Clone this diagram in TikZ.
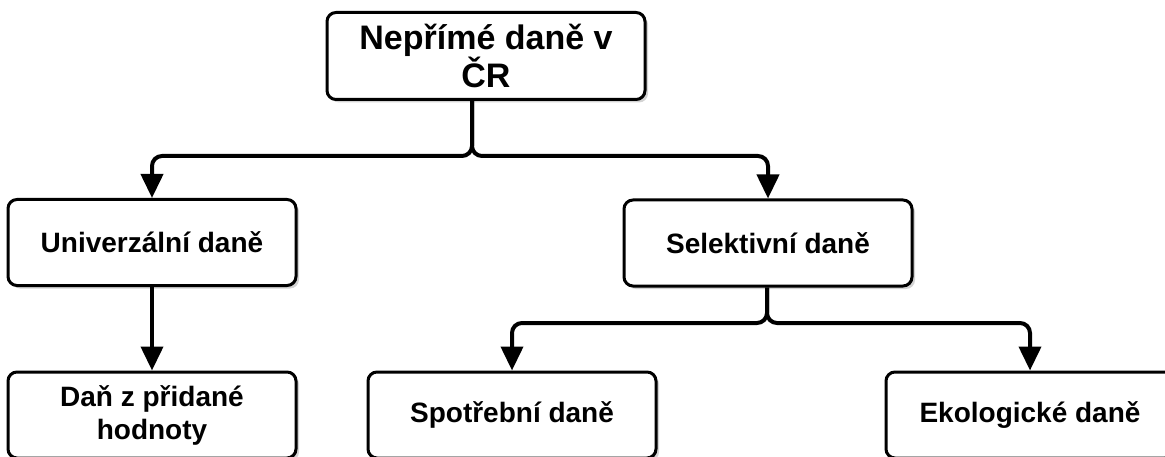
\documentclass[tikz,border=0pt]{standalone}
\usepackage{fontspec}
\setmainfont{Liberation Sans}
\usetikzlibrary{arrows.meta,shadows,calc}
\tikzset{
  box/.style={draw=black, fill=white, line width=3pt, rounded corners=9pt,
    minimum width=288pt, minimum height=86pt, align=center, inner sep=2pt,
    font=\fontsize{28}{33}\selectfont\bfseries,
    drop shadow={shadow xshift=3pt, shadow yshift=-3pt, opacity=0.35, fill=gray}},
  topbox/.style={box, minimum width=318pt, minimum height=87pt,
    font=\fontsize{34}{33}\selectfont\bfseries},
  conn/.style={draw=black, line width=4pt, rounded corners=10pt,
    -{Triangle[length=24pt,width=22pt]}}
}
\begin{document}
\begin{tikzpicture}[x=1pt,y=-1pt]
\useasboundingbox (0,0) rectangle (1165,457);
\begin{scope}
\clip (0,0) rectangle (1165,457);
\node[topbox] (top) at (486,56) {Nepřímé daně v\\ČR};
\node[box] (univ) at (152,242.5) {Univerzální daně};
\node[box] (sel) at (768,243) {Selektivní daně};
\node[box] (dph) at (152,415) {Daň z přidané\\hodnoty};
\node[box] (spot) at (512,415) {Spotřební daně};
\node[box] (eko) at (1030,415) {Ekologické daně};

\coordinate (j1) at (472,156);
\coordinate (j2) at (767,323);

\draw[conn] (top.south -| j1) -- (j1) -| (univ.north);
\draw[conn] (top.south -| j1) -- (j1) -| (sel.north);
\draw[conn] (univ.south) -- (dph.north);
\draw[conn] (sel.south -| j2) -- (j2) -| (spot.north);
\draw[conn] (sel.south -| j2) -- (j2) -| (eko.north);
\end{scope}
\end{tikzpicture}
\end{document}
